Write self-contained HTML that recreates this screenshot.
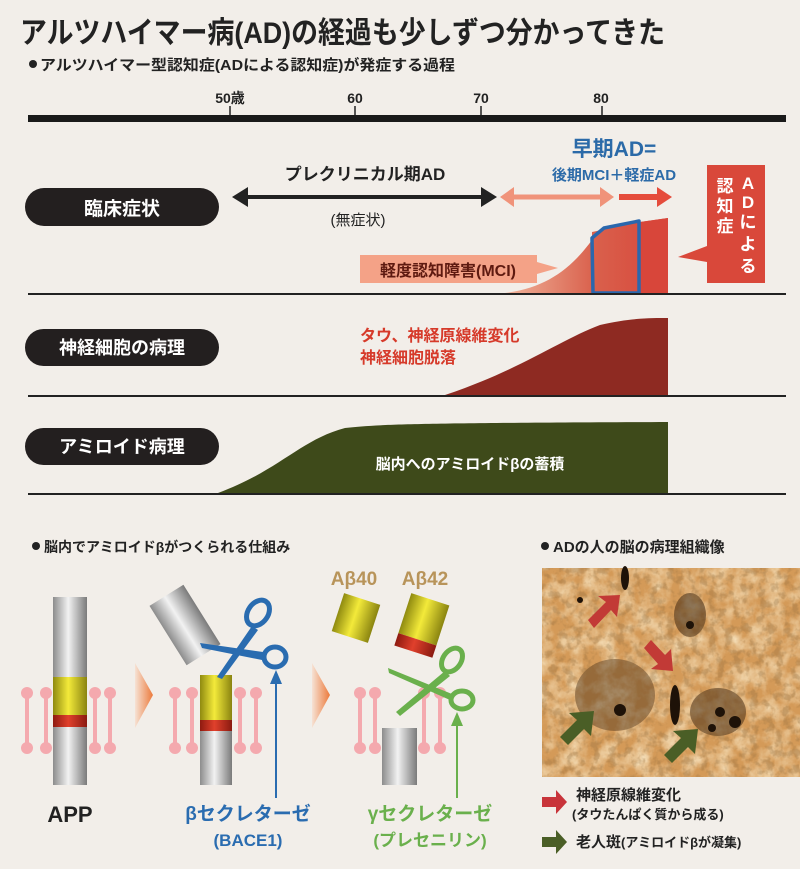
<!DOCTYPE html>
<html><head><meta charset="utf-8"><style>
html,body{margin:0;padding:0;background:#f2eee9;}
svg{display:block;font-family:"Liberation Sans","Noto Sans CJK JP",sans-serif;}
</style></head><body>
<svg width="800" height="869" viewBox="0 0 800 869" xmlns="http://www.w3.org/2000/svg">
<defs>
<linearGradient id="gray" x1="0" x2="1" y1="0" y2="0"><stop offset="0" stop-color="#8c8c8c"/><stop offset="0.45" stop-color="#f2f2f2"/><stop offset="1" stop-color="#7a7a7a"/></linearGradient>
<linearGradient id="yel" x1="0" x2="1"><stop offset="0" stop-color="#8f8a10"/><stop offset="0.45" stop-color="#f3ea3a"/><stop offset="1" stop-color="#8a8410"/></linearGradient>
<linearGradient id="red" x1="0" x2="1"><stop offset="0" stop-color="#8e1a10"/><stop offset="0.45" stop-color="#e0402c"/><stop offset="1" stop-color="#8a1a10"/></linearGradient>
<linearGradient id="tri" x1="0" x2="1"><stop offset="0" stop-color="#f6e2d4"/><stop offset="1" stop-color="#ec7a3c"/></linearGradient>
<linearGradient id="mci" x1="0" x2="1"><stop offset="0" stop-color="#f0b39a"/><stop offset="0.55" stop-color="#d9604c"/><stop offset="1" stop-color="#d8463a"/></linearGradient>
<filter id="tex" x="0" y="0" width="1" height="1">
<feTurbulence type="fractalNoise" baseFrequency="0.06" numOctaves="4" seed="4"/>
<feColorMatrix type="matrix" values="0 0 0 0 0.95  0 0 0 0 0.8  0 0 0 0 0.55  1.6 0 0 0 -0.55"/>
</filter>
<filter id="dk" x="0" y="0" width="1" height="1">
<feTurbulence type="fractalNoise" baseFrequency="0.12" numOctaves="3" seed="9"/>
<feColorMatrix type="matrix" values="0 0 0 0 0.3  0 0 0 0 0.16  0 0 0 0 0.05  0 0 0 -5 2.6"/>
</filter>
<g id="lipid"><line x1="0" y1="0" x2="0" y2="55" stroke="#f4a9ae" stroke-width="4"/><circle cx="0" cy="0" r="6" fill="#f4a9ae"/><circle cx="0" cy="55" r="6" fill="#f4a9ae"/></g>
</defs>

<text x="20" y="43" font-size="30" font-weight="bold" fill="#222" textLength="645" lengthAdjust="spacingAndGlyphs">アルツハイマー病(AD)の経過も少しずつ分かってきた</text>
<circle cx="33" cy="64" r="4" fill="#222"/>
<text x="40" y="70" font-size="15" font-weight="bold" fill="#222" textLength="415" lengthAdjust="spacingAndGlyphs">アルツハイマー型認知症(ADによる認知症)が発症する過程</text>

<g font-size="14" font-weight="bold" fill="#222" text-anchor="middle">
<text x="230" y="103">50歳</text><text x="355" y="103">60</text><text x="481" y="103">70</text><text x="601" y="103">80</text></g>
<g stroke="#222" stroke-width="1.5"><line x1="230" y1="106" x2="230" y2="118"/><line x1="355" y1="106" x2="355" y2="118"/><line x1="481" y1="106" x2="481" y2="118"/><line x1="602" y1="106" x2="602" y2="118"/></g>
<rect x="28" y="115" width="758" height="7" fill="#1a1a1a"/>

<rect x="25" y="188" width="194" height="38" rx="19" fill="#231f1f"/>
<text x="122" y="215" font-size="19" font-weight="bold" fill="#fff" text-anchor="middle">臨床症状</text>
<text x="365" y="180" font-size="17" font-weight="bold" fill="#222" text-anchor="middle">プレクリニカル期AD</text>
<text x="358" y="225" font-size="15" fill="#222" text-anchor="middle">(無症状)</text>
<line x1="244" y1="197" x2="484" y2="197" stroke="#222" stroke-width="4"/>
<polygon points="232,197 248,187 248,207" fill="#222"/><polygon points="497,197 481,187 481,207" fill="#222"/>
<line x1="512" y1="197" x2="602" y2="197" stroke="#f0937a" stroke-width="5"/>
<polygon points="500,197 514,187 514,207" fill="#f0937a"/><polygon points="614,197 600,187 600,207" fill="#f0937a"/>
<line x1="619" y1="197" x2="660" y2="197" stroke="#e54c3c" stroke-width="6"/>
<polygon points="672,197 657,187 657,207" fill="#e54c3c"/>
<text x="614" y="156" font-size="21" font-weight="bold" fill="#2b6aa8" text-anchor="middle">早期AD=</text>
<text x="614" y="180" font-size="15" font-weight="bold" fill="#2b6aa8" text-anchor="middle">後期MCI＋軽症AD</text>

<path d="M505,293 C545,288 570,270 592,240 L592,232 L640,222 L668,218 L668,293 Z" fill="url(#mci)"/>
<path d="M640,222 L668,218 L668,293 L640,293 Z" fill="#d8463a"/>
<path d="M592,238 L604,228 L639,221 L639,293 L593,293 Z" fill="none" stroke="#2a67ad" stroke-width="3.5" stroke-linejoin="round"/>
<rect x="360" y="255" width="177" height="28" fill="#f4a287"/>
<polygon points="537,262 558,268 537,274" fill="#f4a287"/>
<text x="448" y="276" font-size="16" font-weight="bold" fill="#5e1a10" text-anchor="middle">軽度認知障害(MCI)</text>
<rect x="707" y="165" width="58" height="118" fill="#d9483a"/>
<polygon points="707,246 678,257 707,262" fill="#d9483a"/>
<g font-size="17" font-weight="bold" fill="#fff" text-anchor="middle">
<text x="748" y="189">A</text><text x="748" y="208">D</text><text x="748" y="228">に</text><text x="748" y="250">よ</text><text x="748" y="272">る</text>
<text x="725" y="192">認</text><text x="725" y="212">知</text><text x="725" y="232">症</text></g>
<line x1="28" y1="294" x2="786" y2="294" stroke="#222" stroke-width="2"/>

<rect x="25" y="329" width="194" height="37" rx="18.5" fill="#231f1f"/>
<text x="122" y="354" font-size="18" font-weight="bold" fill="#fff" text-anchor="middle">神経細胞の病理</text>
<path d="M445,395 C520,370 560,340 600,325 C630,318 650,318 668,318 L668,395 Z" fill="#8e2a22"/>
<text x="360" y="341" font-size="16" font-weight="bold" fill="#d63a2a">タウ、神経原線維変化</text>
<text x="360" y="363" font-size="16" font-weight="bold" fill="#d63a2a">神経細胞脱落</text>
<line x1="28" y1="396" x2="786" y2="396" stroke="#222" stroke-width="2"/>

<rect x="25" y="428" width="194" height="37" rx="18.5" fill="#231f1f"/>
<text x="122" y="453" font-size="18" font-weight="bold" fill="#fff" text-anchor="middle">アミロイド病理</text>
<path d="M218,493 C280,470 300,440 345,428 C380,424 420,423 668,422 L668,493 Z" fill="#3e4a1a"/>
<text x="470" y="469" font-size="15" font-weight="bold" fill="#fff" text-anchor="middle">脳内へのアミロイドβの蓄積</text>
<line x1="28" y1="494" x2="786" y2="494" stroke="#222" stroke-width="2"/>

<circle cx="36" cy="546" r="4" fill="#222"/>
<text x="44" y="552" font-size="14" font-weight="bold" fill="#222">脳内でアミロイドβがつくられる仕組み</text>

<use href="#lipid" x="27" y="693"/><use href="#lipid" x="46" y="693"/><use href="#lipid" x="95" y="693"/><use href="#lipid" x="110" y="693"/>
<rect x="53" y="597" width="34" height="80" fill="url(#gray)"/>
<rect x="53" y="677" width="34" height="38" fill="url(#yel)"/>
<rect x="53" y="715" width="34" height="12" fill="url(#red)"/>
<rect x="53" y="727" width="34" height="58" fill="url(#gray)"/>
<text x="70" y="822" font-size="22" font-weight="bold" fill="#222" text-anchor="middle">APP</text>
<polygon points="135,663 153,695 135,728" fill="url(#tri)"/>
<polygon points="312,663 330,695 312,728" fill="url(#tri)"/>

<use href="#lipid" x="175" y="693"/><use href="#lipid" x="192" y="693"/><use href="#lipid" x="240" y="693"/><use href="#lipid" x="256" y="693"/>
<rect x="200" y="675" width="32" height="45" fill="url(#yel)"/>
<rect x="200" y="720" width="32" height="11" fill="url(#red)"/>
<rect x="200" y="731" width="32" height="54" fill="url(#gray)"/>
<rect x="165" y="590" width="40" height="70" fill="url(#gray)" transform="rotate(-32 185 625)"/>
<g stroke="#2a6cb0" fill="none" stroke-width="5">
<ellipse cx="258" cy="613" rx="10" ry="14" transform="rotate(35 258 613)"/>
<ellipse cx="275" cy="657" rx="11" ry="10"/></g>
<path d="M252,626 L217,677 L222,679 L258,630 Z" fill="#2a6cb0"/>
<path d="M263,652 L200,643 L202,648 L262,660 Z" fill="#2a6cb0"/>
<line x1="276" y1="798" x2="276" y2="680" stroke="#2a6cb0" stroke-width="2"/>
<polygon points="276,670 270,684 282,684" fill="#2a6cb0"/>
<text x="248" y="820" font-size="19" font-weight="bold" fill="#2a6cb0" text-anchor="middle">βセクレターゼ</text>
<text x="248" y="846" font-size="17" font-weight="bold" fill="#2a6cb0" text-anchor="middle">(BACE1)</text>

<text x="354" y="585" font-size="19" font-weight="bold" fill="#b8945a" text-anchor="middle">Aβ40</text>
<text x="425" y="585" font-size="19" font-weight="bold" fill="#b8945a" text-anchor="middle">Aβ42</text>
<rect x="337" y="598" width="38" height="40" fill="url(#yel)" transform="rotate(18 356 618)"/>
<rect x="402" y="598" width="40" height="42" fill="url(#yel)" transform="rotate(18 422 625)"/>
<rect x="402" y="640" width="40" height="13" fill="url(#red)" transform="rotate(18 422 625)"/>
<use href="#lipid" x="360" y="693"/><use href="#lipid" x="375" y="693"/><use href="#lipid" x="424" y="693"/><use href="#lipid" x="440" y="693"/>
<rect x="382" y="728" width="35" height="57" fill="url(#gray)"/>
<g stroke="#6ab04c" fill="none" stroke-width="5">
<ellipse cx="452" cy="660" rx="9" ry="13" transform="rotate(35 452 660)"/>
<ellipse cx="462" cy="700" rx="11" ry="9"/></g>
<path d="M445,671 L396,712 L400,716 L450,676 Z" fill="#6ab04c"/>
<path d="M452,694 L388,668 L389,673 L450,700 Z" fill="#6ab04c"/>
<line x1="457" y1="798" x2="457" y2="722" stroke="#6ab04c" stroke-width="2"/>
<polygon points="457,712 451,726 463,726" fill="#6ab04c"/>
<text x="430" y="820" font-size="19" font-weight="bold" fill="#6ab04c" text-anchor="middle">γセクレターゼ</text>
<text x="430" y="846" font-size="17" font-weight="bold" fill="#6ab04c" text-anchor="middle">(プレセニリン)</text>

<circle cx="545" cy="546" r="4" fill="#222"/>
<text x="553" y="552" font-size="15" font-weight="bold" fill="#222">ADの人の脳の病理組織像</text>
<rect x="542" y="568" width="258" height="209" fill="#d49a58"/>
<rect x="542" y="568" width="258" height="209" filter="url(#tex)"/>
<g fill="#3a2410">
<ellipse cx="615" cy="695" rx="40" ry="36" opacity="0.4"/>
<ellipse cx="690" cy="615" rx="16" ry="22" opacity="0.55"/>
<ellipse cx="718" cy="712" rx="28" ry="24" opacity="0.5"/>
</g>
<rect x="542" y="568" width="258" height="209" filter="url(#dk)" opacity="0.35"/>
<g fill="#1e1208">
<ellipse cx="675" cy="705" rx="5" ry="20"/>
<ellipse cx="625" cy="578" rx="4" ry="12"/>
<circle cx="720" cy="712" r="5"/><circle cx="735" cy="722" r="6"/><circle cx="712" cy="728" r="4"/><circle cx="580" cy="600" r="3"/>
<circle cx="620" cy="710" r="6"/><circle cx="690" cy="625" r="4"/>
</g>
<polygon points="588,620 606,602 598,596 620,595 617,617 611,610 594,628" fill="#c23a36"/>
<polygon points="644,648 658,664 651,669 673,671 671,649 665,655 651,640" fill="#c23a36"/>
<polygon points="560,737 577,720 569,713 594,711 591,736 584,729 568,745" fill="#4a5e26"/>
<polygon points="664,755 681,738 673,731 698,729 695,754 688,747 672,763" fill="#4a5e26"/>
<polygon points="542,797 556,797 556,790 567,802 556,814 556,807 542,807" fill="#c8343a"/>
<polygon points="542,837 556,837 556,830 567,842 556,854 556,847 542,847" fill="#4a5e26"/>
<text x="576" y="800" font-size="15" font-weight="bold" fill="#222">神経原線維変化</text>
<text x="572" y="819" font-size="13" font-weight="bold" fill="#222">(タウたんぱく質から成る)</text>
<text x="576" y="847" font-size="15" font-weight="bold" fill="#222">老人斑<tspan font-size="13">(アミロイドβが凝集)</tspan></text>
</svg>
</body></html>
